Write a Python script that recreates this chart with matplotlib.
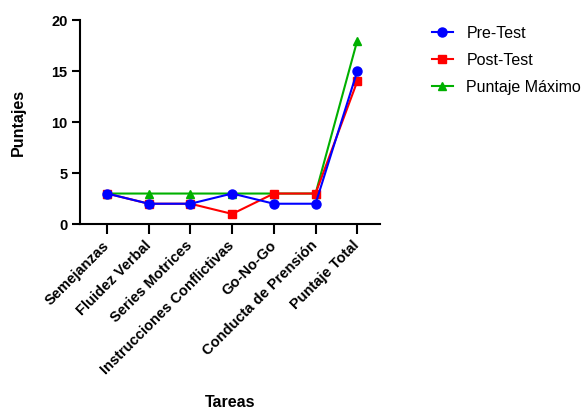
import numpy as np
import matplotlib
matplotlib.use("Agg")
import matplotlib.pyplot as plt

plt.rcParams['font.family'] = ['Liberation Sans', 'DejaVu Sans']

# datos
tareas = ['Semejanzas', 'Fluidez Verbal', 'Series Motrices', 'Instrucciones Conflictivas',
          'Go-No-Go', 'Conducta de Prensión', 'Puntaje Total']
pre_test = [3, 2, 2, 3, 2, 2, 15]
post_test = [3, 2, 2, 1, 3, 3, 14]
puntaje_max = [3, 3, 3, 3, 3, 3, 18]

x = np.arange(len(tareas))

fig = plt.figure(figsize=(5.84, 4.12), dpi=100)
ax = fig.add_axes([0.137, 0.456, 0.514, 0.495])

# verde al fondo, luego rojo, azul arriba
l3, = ax.plot(x, puntaje_max, color='#00B000', marker='^', markersize=6, lw=1.5, zorder=2, label='Puntaje Máximo')
l2, = ax.plot(x, post_test, color='#FF0000', marker='s', markersize=6, lw=1.5, zorder=3, label='Post-Test')
l1, = ax.plot(x, pre_test, color='#0000FF', marker='o', markersize=6.5, lw=1.5, zorder=4, label='Pre-Test')

ax.set_xlim(-0.65, 6.55)
ax.set_ylim(0, 20)
ax.set_yticks([0, 5, 10, 15, 20])
ax.set_xticks(x)
ax.set_xticklabels(tareas, rotation=45, ha='right', va='center', rotation_mode='anchor',
                   fontsize=10.5, fontweight='bold')
for lab in ax.get_yticklabels():
    lab.set_fontweight('bold')
    lab.set_fontsize(10.5)

for s in ['top', 'right']:
    ax.spines[s].set_visible(False)
for s in ['left', 'bottom']:
    ax.spines[s].set_linewidth(1.5)
ax.tick_params(axis='both', width=1.5, length=6, pad=3)
ax.tick_params(axis='x', length=7, pad=7)

ax.set_ylabel('Puntajes', fontsize=11.5, fontweight='bold')
ax.yaxis.set_label_coords(-0.18, 0.5)
ax.set_xlabel('Tareas', fontsize=11.5, fontweight='bold')
ax.xaxis.set_label_coords(0.5, -0.84)

fig.legend(handles=[l1, l2, l3], loc='upper left', bbox_to_anchor=(432/584, 1-26/412),
           frameon=False, fontsize=11.5, handlelength=1.3, handletextpad=0.85,
           labelspacing=0.75, borderpad=0, borderaxespad=0)

fig.savefig('out.png', dpi=100)
